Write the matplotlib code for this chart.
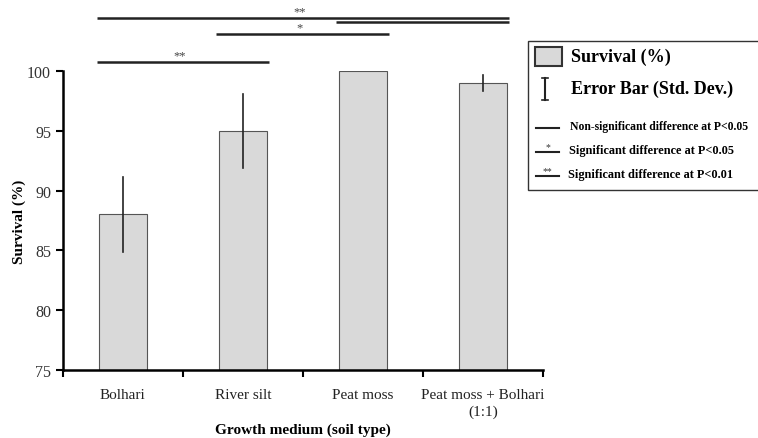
import matplotlib
matplotlib.use("Agg")
import matplotlib.pyplot as plt
from matplotlib.patches import Rectangle
from matplotlib.lines import Line2D

plt.rcParams['font.family'] = ['Liberation Serif', 'DejaVu Serif']

categories = ["Bolhari", "River silt", "Peat moss", "Peat moss + Bolhari\n(1:1)"]
survival = [88, 95, 100, 99]
std_dev = [3.15, 3.1, 0.0, 0.7]
yticks = [75, 80, 85, 90, 95, 100]
# significance brackets: (start idx, end idx, height, label)
sig_start = [0, 2, 1, 0]
sig_end = [3, 3, 2, 1]
sig_height = [104.45, 104.1, 103.1, 100.75]
sig_label = ["**", "", "*", "**"]

fig = plt.figure(figsize=(7.58, 4.39), dpi=100)
ax = fig.add_axes([0.083, 0.155, 0.633, 0.681])

x = list(range(len(categories)))
ax.bar(x, survival, width=0.4, color="#d9d9d9", edgecolor="#555555", linewidth=0.8, zorder=2)
for xi, v, s in zip(x, survival, std_dev):
    if s > 0:
        ax.plot([xi, xi], [v - s, v + s], color="#222222", lw=1.2, zorder=3)

ax.set_ylim(75, 100)
ax.set_xlim(-0.5, 3.5)
ax.set_yticks(yticks)
ax.set_yticklabels([str(t) for t in yticks], fontsize=11.5, color="#333333")
ax.set_xticks([-0.5, 0.5, 1.5, 2.5, 3.5])
ax.set_xticklabels([])
ax.set_xticks(x, minor=True)
ax.set_xticklabels(categories, minor=True, fontsize=11, color="#222222", linespacing=1.3)
ax.tick_params(axis='x', which='minor', length=0, pad=13)
ax.tick_params(axis='x', which='major', length=5, width=1.5, direction='out')
ax.tick_params(axis='y', length=5, width=1.5, direction='out')
for side in ['top', 'right']:
    ax.spines[side].set_visible(False)
for side in ['left', 'bottom']:
    ax.spines[side].set_linewidth(1.8)

ax.set_ylabel("Survival (%)", fontsize=11, fontweight='bold')
ax.yaxis.set_label_coords(-0.077, 0.5)
ax.set_xlabel("Growth medium (soil type)", fontsize=11, fontweight='bold', va='center')
ax.xaxis.set_label_coords(0.5, -0.197)

for s0, s1, h, lab in zip(sig_start, sig_end, sig_height, sig_label):
    ax.plot([s0 - 0.22, s1 + 0.22], [h, h], color="#222222", lw=1.8, clip_on=False, solid_capstyle='butt')
    if lab:
        cx = (s0 + s1) / 2 if s1 - s0 > 1 else (s0 - 0.22 + s1 + 0.22) / 2
        ax.text(cx - 0.03, h + 0.05, lab, ha='center', va='bottom', fontsize=9, color="#444444", clip_on=False)

# legend box drawn in figure coordinates
W, H = 758.0, 439.0
def fx(px):
    return px / W
def fy(py):
    return 1 - py / H

fig.patches.append(Rectangle((fx(528), fy(191)), fx(240), (191 - 42) / H, transform=fig.transFigure,
                             facecolor='white', edgecolor='#333333', linewidth=1.0))
fig.patches.append(Rectangle((fx(535), fy(67)), fx(27), 19 / H, transform=fig.transFigure,
                             facecolor='#d9d9d9', edgecolor='#333333', linewidth=1.5))
fig.text(fx(571), fy(57), "Survival (%)", fontsize=13, fontweight='bold', va='center', ha='left')
fig.lines.append(Line2D([fx(545), fx(545)], [fy(79), fy(101)], transform=fig.transFigure, color='#222222', lw=1.5))
fig.lines.append(Line2D([fx(542), fx(548)], [fy(79), fy(79)], transform=fig.transFigure, color='#222222', lw=1.2))
fig.lines.append(Line2D([fx(542), fx(548)], [fy(101), fy(101)], transform=fig.transFigure, color='#222222', lw=1.2))
fig.text(fx(571), fy(89), "Error Bar (Std. Dev.)", fontsize=13, fontweight='bold', va='center', ha='left')

leg_y = [127, 151, 175]
leg_marks = ["", "*", "**"]
leg_texts = ["Non-significant difference at P<0.05", "Significant difference at P<0.05",
             "Significant difference at P<0.01"]
leg_tx = [570, 569, 568]
leg_fs = [8.4, 8.8, 8.8]
for yy, mk, tx, txx, fs in zip(leg_y, leg_marks, leg_texts, leg_tx, leg_fs):
    fig.lines.append(Line2D([fx(536), fx(559)], [fy(yy + 2), fy(yy + 2)], transform=fig.transFigure,
                            color='#222222', lw=1.5))
    if mk:
        fig.text(fx(547.5), fy(yy + 1), mk, fontsize=7, ha='center', va='bottom', color='#333333')
    fig.text(fx(txx), fy(yy), tx, fontsize=fs, fontweight='bold', va='center', ha='left')

fig.savefig("out.png", dpi=100)
